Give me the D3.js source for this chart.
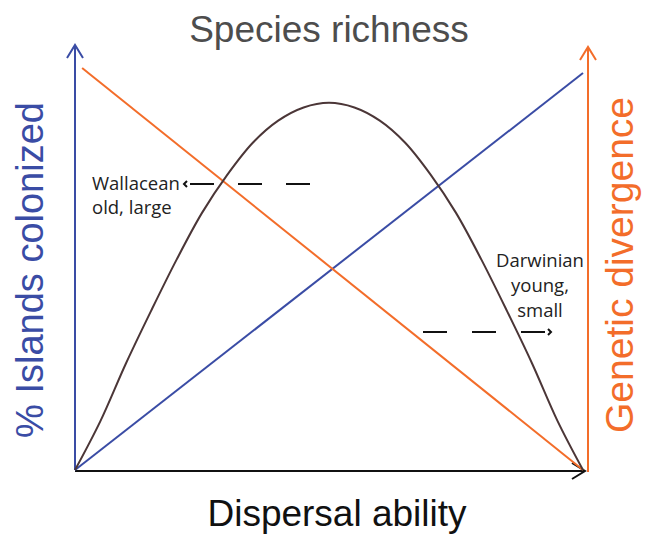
<!DOCTYPE html>
<html>
<head>
<meta charset="utf-8">
<script src="https://cdn.jsdelivr.net/npm/d3@7"></script>
<style>
  body { margin: 0; background: #fff; }
  svg { display: block; }
</style>
</head>
<body>
<svg id="chart" width="649" height="535"></svg>
<script>
// values, 0..1 on both axes
var dispersal = [0, 1];
var colonized = [0, 0.934];
var divergenceX = [0.014, 1];
var divergence = [0.946, 0];
var richnessX = [0, 0.05, 0.1, 0.15, 0.2, 0.25, 0.3, 0.35, 0.4, 0.45, 0.5,
                 0.55, 0.6, 0.65, 0.7, 0.75, 0.8, 0.85, 0.9, 0.95, 1];
var richness = [0, 0.115, 0.25, 0.375, 0.495, 0.605, 0.695, 0.77, 0.822, 0.853, 0.864,
                0.853, 0.822, 0.77, 0.695, 0.605, 0.495, 0.375, 0.25, 0.115, 0];

var blue = '#3a4ca5';
var orange = '#f36d2a';
var brown = '#4b3637';

var svg = d3.select('#chart');
var x = d3.scaleLinear().domain([0, 1]).range([75, 583]);
var y = d3.scaleLinear().domain([0, 1]).range([470, 45]);

function addMarker(id, color) {
  svg.select('defs').append('marker')
    .attr('id', id)
    .attr('markerUnits', 'userSpaceOnUse')
    .attr('markerWidth', 30).attr('markerHeight', 30)
    .attr('viewBox', '-15 -15 30 30')
    .attr('refX', 0).attr('refY', 0)
    .attr('orient', 'auto')
    .append('path')
    .attr('d', 'M-13,-8L0,0L-13,8')
    .attr('fill', 'none')
    .attr('stroke', color)
    .attr('stroke-width', 2);
}
svg.append('defs');
addMarker('arrow-blue', blue);
addMarker('arrow-orange', orange);
addMarker('arrow-black', '#111');

// axes
svg.append('line')
  .attr('x1', x(0)).attr('y1', y(0)).attr('x2', x(0)).attr('y2', y(1))
  .attr('stroke', blue).attr('stroke-width', 2)
  .attr('marker-end', 'url(#arrow-blue)');
svg.append('line')
  .attr('x1', x(1) + 5).attr('y1', y(0) + 2).attr('x2', x(1) + 5).attr('y2', y(1) + 2)
  .attr('stroke', orange).attr('stroke-width', 2)
  .attr('marker-end', 'url(#arrow-orange)');
svg.append('line')
  .attr('x1', x(0)).attr('y1', y(0) + 1).attr('x2', x(1) + 2).attr('y2', y(0) + 1)
  .attr('stroke', '#111').attr('stroke-width', 2)
  .attr('marker-end', 'url(#arrow-black)');

// series
var line = d3.line()
  .x(function(d) { return x(d[0]); })
  .y(function(d) { return y(d[1]); });

svg.append('path')
  .datum(d3.zip(dispersal, colonized))
  .attr('d', line)
  .attr('fill', 'none').attr('stroke', blue).attr('stroke-width', 2);

svg.append('path')
  .datum(d3.zip(divergenceX, divergence))
  .attr('d', line)
  .attr('fill', 'none').attr('stroke', orange).attr('stroke-width', 2);

svg.append('path')
  .datum(d3.zip(richnessX, richness))
  .attr('d', line.curve(d3.curveCatmullRom))
  .attr('fill', 'none').attr('stroke', brown).attr('stroke-width', 2);

// dashed pointers with small chevron heads
svg.append('line')
  .attr('x1', 190).attr('x2', 314).attr('y1', 184).attr('y2', 184)
  .attr('stroke', '#111').attr('stroke-width', 2)
  .attr('stroke-dasharray', '24,24');
svg.append('path')
  .attr('d', 'M187,181L184,184L187,187')
  .attr('fill', 'none').attr('stroke', '#111').attr('stroke-width', 2);

svg.append('line')
  .attr('x1', 545).attr('x2', 421).attr('y1', 332).attr('y2', 332)
  .attr('stroke', '#111').attr('stroke-width', 2)
  .attr('stroke-dasharray', '24,25');
svg.append('path')
  .attr('d', 'M548,329L551,332L548,335')
  .attr('fill', 'none').attr('stroke', '#111').attr('stroke-width', 2);

// titles
var sans = 'Liberation Sans, Arial, sans-serif';
svg.append('text')
  .attr('x', 329).attr('y', 42)
  .attr('text-anchor', 'middle')
  .attr('font-family', sans).attr('font-size', 37)
  .attr('fill', '#4d4d4d')
  .text('Species richness');

svg.append('text')
  .attr('x', 337).attr('y', 526)
  .attr('text-anchor', 'middle')
  .attr('font-family', sans).attr('font-size', 37)
  .attr('fill', '#111')
  .text('Dispersal ability');

svg.append('text')
  .attr('transform', 'translate(43,270) rotate(-90)')
  .attr('text-anchor', 'middle')
  .attr('font-family', sans).attr('font-size', 38)
  .attr('fill', blue)
  .text('% Islands colonized');

svg.append('text')
  .attr('transform', 'translate(633,265) rotate(-90)')
  .attr('text-anchor', 'middle')
  .attr('font-family', sans).attr('font-size', 39)
  .attr('fill', orange)
  .text('Genetic divergence');

// annotations
var small = 'Open Sans, Noto Sans, sans-serif';
svg.append('text')
  .attr('font-family', small).attr('font-size', 18.5).attr('fill', '#222')
  .selectAll('tspan')
  .data(['Wallacean', 'old, large'])
  .enter().append('tspan')
  .attr('x', 92)
  .attr('y', function(d, i) { return 190 + i * 24; })
  .text(function(d) { return d; });

svg.append('text')
  .attr('font-family', small).attr('font-size', 18.5).attr('fill', '#222')
  .attr('text-anchor', 'middle')
  .selectAll('tspan')
  .data(['Darwinian', 'young,', 'small'])
  .enter().append('tspan')
  .attr('x', 540)
  .attr('y', function(d, i) { return 267 + i * 25; })
  .text(function(d) { return d; });
</script>
</body>
</html>
